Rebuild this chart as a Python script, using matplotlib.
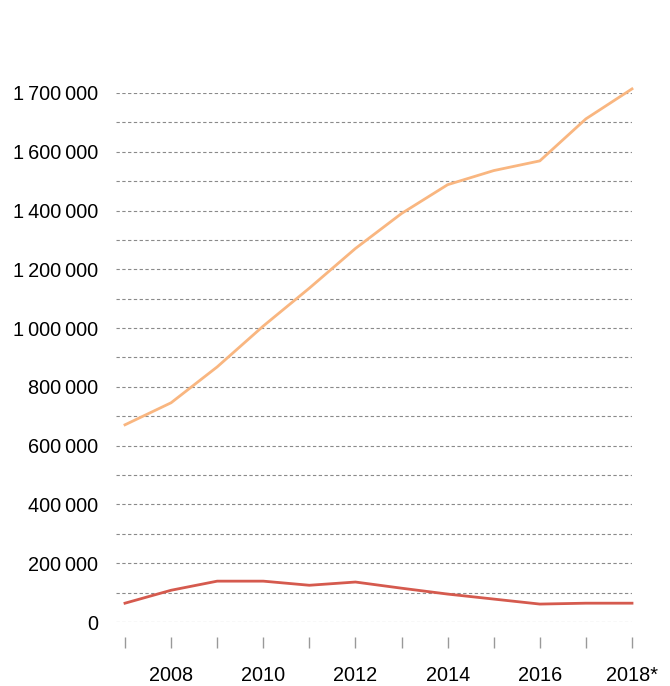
import numpy as np
import matplotlib.pyplot as plt
from matplotlib.ticker import FixedLocator

years = [2007, 2008, 2009, 2010, 2011, 2012, 2013, 2014, 2015, 2016, 2017, 2018]
upper = [671000, 746000, 868000, 1007000, 1136000, 1271000, 1390000, 1488000, 1536000, 1569000, 1712000, 1814000]
lower = [64000, 108000, 139000, 139000, 125000, 136000, 115000, 95000, 78000, 61000, 64000, 64000]

xtick_years = [2008, 2010, 2012, 2014, 2016, 2018]
xtick_labels = ["2008", "2010", "2012", "2014", "2016", "2018*"]
ytick_vals = [0, 200000, 400000, 600000, 800000, 1000000, 1200000, 1400000, 1600000, 1800000]
ytick_labels = ["0", "200\u2009000", "400\u2009000", "600\u2009000", "800\u2009000",
                "1\u2009000\u2009000", "1\u2009200\u2009000", "1\u2009400\u2009000",
                "1\u2009600\u2009000", "1\u2009700\u2009000"]
yminor = [100000, 300000, 500000, 700000, 900000, 1100000, 1300000, 1500000, 1700000]

plt.rcParams['font.family'] = ['Liberation Sans', 'DejaVu Sans']

W, H = 670, 686
fig = plt.figure(figsize=(W / 100, H / 100), dpi=100)
ax = fig.add_axes([116 / W, (H - 622) / H, 516 / W, 529 / H])

ax.plot(years, upper, color="#F9B680", lw=2.0, clip_on=False, zorder=3)
ax.plot(years, lower, color="#D55A4E", lw=2.0, clip_on=False, zorder=3)

ax.set_xlim(2007 - 9 / 46.1, 2018)
ax.set_ylim(0, 1800000)

ax.set_yticks(ytick_vals)
ax.set_yticklabels(ytick_labels)
ax.yaxis.set_minor_locator(FixedLocator(yminor))
ax.grid(axis="y", which="both", color="#8a8a8a", linestyle=(0, (3, 2.2)), lw=0.8)
ax.tick_params(axis="y", which="both", length=0, pad=13, labelsize=14.3)

ax.set_xticks(years)
ax.set_xticklabels(["" if y not in xtick_years else xtick_labels[xtick_years.index(y)] for y in years])
ax.tick_params(axis="x", length=8, width=1, color="#999999", direction="out", pad=13, labelsize=14.3)

for s in ax.spines.values():
    s.set_visible(False)
ax.spines["bottom"].set_position(("outward", 11))

fig.savefig("out.png", dpi=100)
